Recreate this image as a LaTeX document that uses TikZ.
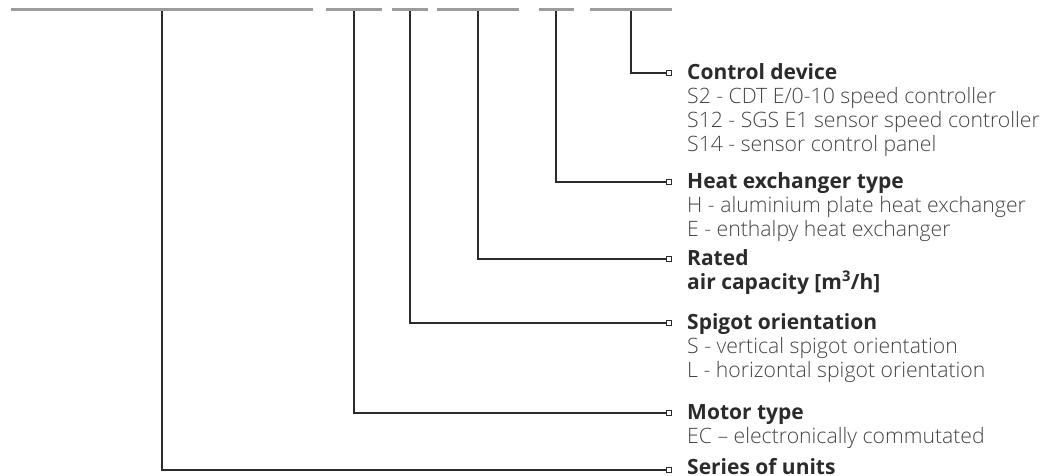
\documentclass[tikz,border=0pt]{standalone}
\usepackage{fontspec}
\setmainfont{Open Sans}
\newfontfamily\lightfont{Open Sans Light}
\definecolor{barc}{HTML}{9C9CA0}
\definecolor{linec}{HTML}{2B2B2B}
\definecolor{descc}{HTML}{444444}
\tikzset{
  bar/.style={draw=barc, line width=3pt},
  conn/.style={draw=linec, line width=1.3pt},
  sq/.style={draw=linec, fill=white, line width=0.8pt, minimum size=5pt, inner sep=0pt},
  ttl/.style={anchor=base west, inner sep=0pt, text=linec, font=\fontsize{21}{24}\selectfont\bfseries},
  dsc/.style={anchor=base west, inner sep=0pt, text=descc, font=\fontsize{21.2}{24}\selectfont\lightfont},
}
\begin{document}
\begin{tikzpicture}[x=1pt,y=-1pt]
\useasboundingbox (0,0) rectangle (1045,476);
% code bars
\draw[bar] (11,10) -- (313,10);
\draw[bar] (326,10) -- (382,10);
\draw[bar] (392,10) -- (428,10);
\draw[bar] (437,10) -- (519,10);
\draw[bar] (539,10) -- (574,10);
\draw[bar] (590,10) -- (672,10);
\coordinate (b1) at (162,11.5);
\coordinate (b2) at (354,11.5);
\coordinate (b3) at (410,11.5);
\coordinate (b4) at (478,11.5);
\coordinate (b5) at (556,11.5);
\coordinate (b6) at (631,11.5);
% end squares
\node[sq] (s6) at (668.5,73) {};
\node[sq] (s5) at (668.5,182) {};
\node[sq] (s4) at (668.5,259) {};
\node[sq] (s3) at (668.5,323) {};
\node[sq] (s2) at (668.5,413) {};
\node[sq] (s1) at (668.5,470) {};
% connectors
\draw[conn] (b6) |- (s6.west);
\draw[conn] (b5) |- (s5.west);
\draw[conn] (b4) |- (s4.west);
\draw[conn] (b3) |- (s3.west);
\draw[conn] (b2) |- (s2.west);
\draw[conn] (b1) |- (s1.west);
% texts
\node[ttl] (t6) at (687,79.5) {Control device};
\node[dsc] (d6a) at (687,103.5) {S2 - CDT E/0-10 speed controller};
\node[dsc] (d6b) at (687,127.5) {S12 - SGS E1 sensor speed controller};
\node[dsc] (d6c) at (687,151.5) {S14 - sensor control panel};
\node[ttl] (t5) at (687,188.5) {Heat exchanger type};
\node[dsc] (d5a) at (687,212.5) {H - aluminium plate heat exchanger};
\node[dsc] (d5b) at (687,236.5) {E - enthalpy heat exchanger};
\node[ttl] (t4) at (687,265.5) {Rated};
\node[ttl] (t4b) at (687,289.5) {air capacity [m\textsuperscript{3}/h]};
\node[ttl] (t3) at (687,329.5) {Spigot orientation};
\node[dsc] (d3a) at (687,353.5) {S - vertical spigot orientation};
\node[dsc] (d3b) at (687,377.5) {L - horizontal spigot orientation};
\node[ttl] (t2) at (687,419.5) {Motor type};
\node[dsc] (d2a) at (687,443.5) {EC – electronically commutated};
\node[ttl] (t1) at (687,474.5) {Series of units};
\end{tikzpicture}
\end{document}
